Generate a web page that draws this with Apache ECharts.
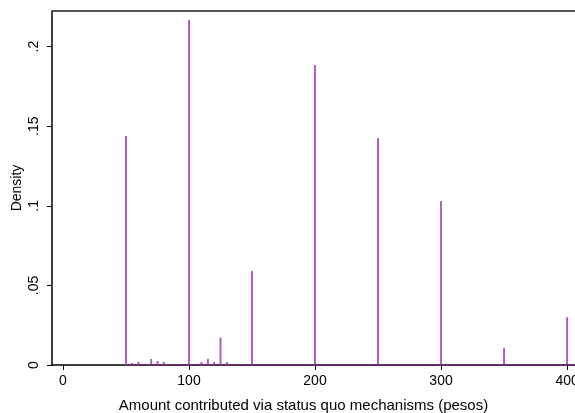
<!DOCTYPE html>
<html>
<head>
<meta charset="utf-8">
<script src="https://cdn.jsdelivr.net/npm/echarts@6/dist/echarts.min.js"></script>
<style>html,body{margin:0;padding:0;background:#fff}#c{width:575px;height:413px}</style>
</head>
<body>
<div id="c"></div>
<script>
// Data (density per bin)
var binValues = [50, 55, 60, 70, 75, 80, 100, 110, 115, 120, 125, 130, 150, 200, 250, 300, 350, 400];
var densities = [0.1439, 0.0013, 0.002, 0.0038, 0.0025, 0.002, 0.2168, 0.0019, 0.0038, 0.0019, 0.0172, 0.0019, 0.059, 0.1885, 0.1426, 0.103, 0.0107, 0.030];
var xTicks = [0, 100, 200, 300, 400];
var yTicks = [0, 0.05, 0.1, 0.15, 0.2];
var yTickLabels = ['0', '.05', '.1', '.15', '.2'];
var xTitle = 'Amount contributed via status quo mechanisms (pesos)';
var yTitle = 'Density';

var xMin = -8.7, xMax = 406.3, yMax = 0.2224;
var font = '"Liberation Sans", Arial, Helvetica, sans-serif';

var barData = binValues.map(function (v, i) { return [v, densities[i]]; });
var baseData = [[binValues[0], 0], [xMax, 0]];

var chart = echarts.init(document.getElementById('c'), null, {renderer: 'canvas'});
chart.setOption({
  animation: false,
  backgroundColor: '#fff',
  grid: {left: 52, right: 0, top: 11, bottom: 48, containLabel: false, outerBoundsMode: 'none'},
  xAxis: [{
    type: 'value', min: xMin, max: xMax,
    name: xTitle, nameLocation: 'middle', nameGap: 33,
    nameTextStyle: {fontFamily: font, fontSize: 15, color: '#000', padding: [0, 20, 0, 0]},
    axisLine: {show: true, onZero: false, lineStyle: {color: '#000', width: 1.5}},
    axisTick: {show: true, length: 5, customValues: xTicks, lineStyle: {color: '#000', width: 1}},
    axisLabel: {customValues: xTicks, margin: 9, fontFamily: font, fontSize: 14, color: '#000', hideOverlap: false},
    splitLine: {show: false}
  }, {
    type: 'value', position: 'top', min: xMin, max: xMax,
    axisLine: {show: true, onZero: false, lineStyle: {color: '#555', width: 2}},
    axisTick: {show: false}, axisLabel: {show: false}, splitLine: {show: false}
  }],
  yAxis: {
    type: 'value', min: 0, max: yMax,
    name: yTitle, nameLocation: 'middle', nameGap: 28, nameMoveOverlap: false,
    nameTextStyle: {fontFamily: font, fontSize: 14, color: '#000'},
    axisLine: {show: true, onZero: false, lineStyle: {color: '#000', width: 1.5}},
    axisTick: {show: true, length: 5, customValues: yTicks, lineStyle: {color: '#000', width: 1}},
    axisLabel: {
      customValues: yTicks, rotate: 90, margin: 11,
      fontFamily: font, fontSize: 14, color: '#000',
      formatter: function (v) {
        for (var i = 0; i < yTicks.length; i++) if (Math.abs(yTicks[i] - v) < 1e-9) return yTickLabels[i];
        return '';
      }
    },
    splitLine: {show: false}
  },
  series: [{
    type: 'custom', data: barData, z: 3, clip: true,
    encode: {x: 0, y: 1},
    renderItem: function (params, api) {
      var top = api.coord([api.value(0), api.value(1)]);
      var bot = api.coord([api.value(0), 0]);
      return {
        type: 'rect',
        shape: {x: top[0] - 1, y: top[1], width: 2, height: bot[1] - top[1]},
        style: {fill: '#b25ebf'}
      };
    }
  }, {
    type: 'line', data: baseData, symbol: 'none',
    lineStyle: {color: '#6b2b73', width: 1.5}, z: 4
  }]
});
</script>
</body>
</html>
